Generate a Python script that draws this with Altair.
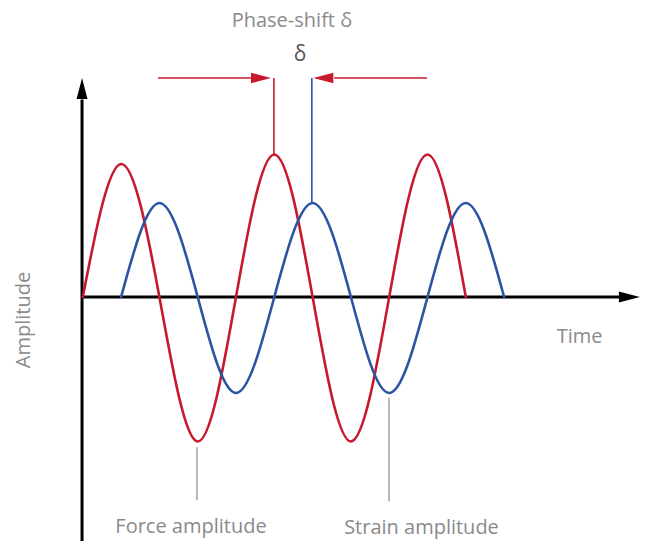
import altair as alt
import pandas as pd

# Waves: time in quarter periods, amplitude in arbitrary units
force_t = [0, 1, 2, 3, 4, 5, 6, 7, 8, 9, 10]
force_a = [0, 1.40, 0, -1.52, 0, 1.50, 0, -1.52, 0, 1.50, 0]
strain_t = [1, 2, 3, 4, 5, 6, 7, 8, 9, 10, 11]
strain_a = [0, 0.99, 0, -1.01, 0, 0.99, 0, -1.01, 0, 0.99, 0]

# Axes (arrows)
x_axis_t = [-0.02, 14.0]
x_axis_a = [0, 0]
y_axis_t = [-0.02, -0.02]
y_axis_a = [2.08, -2.61]
x_arrow = {"t": [14.27], "a": [0]}
y_arrow = {"t": [-0.02], "a": [2.195]}

# Phase-shift annotation
shift_left_t = [1.963, 4.42]
shift_right_t = [6.566, 8.987]
shift_a = 2.305
shift_left_head_t = [4.653]
shift_right_head_t = [6.28]
force_marker_t = [4.99, 4.99]
force_marker_a = [2.305, 1.50]
strain_marker_t = [5.98, 5.98]
strain_marker_a = [2.305, 0.99]

# Leader lines
force_leader_t = [2.98, 2.98]
force_leader_a = [-1.58, -2.14]
strain_leader_t = [7.995, 7.995]
strain_leader_a = [-1.06, -2.15]

# Labels
labels = ["Phase-shift δ", "Time", "Force amplitude", "Strain amplitude"]
labels_t = [5.46, 12.97, 2.825, 8.843]
labels_a = [2.842, -0.484, -2.484, -2.495]

RED = "#C8182B"
BLUE = "#2B55A3"
GRAY_TXT = "#8A8A8A"
GRAY_LINE = "#A6A6A6"
FONT = "Open Sans"

xs = alt.Scale(domain=[-1.953, 14.574], nice=False, zero=False)
ys = alt.Scale(domain=[-2.568, 3.042], nice=False, zero=False)


def enc(ch, order=True):
    e = dict(
        x=alt.X("t:Q", scale=xs, axis=None),
        y=alt.Y("a:Q", scale=ys, axis=None),
    )
    if order:
        e["order"] = alt.Order("i:Q")
    return ch.encode(**e)


def line(ts, as_, color, width, interp="linear", cap="butt"):
    df = pd.DataFrame({"t": ts, "a": as_, "i": list(range(len(ts)))})
    return enc(alt.Chart(df).mark_line(color=color, strokeWidth=width,
                                       interpolate=interp, strokeCap=cap))


def head(ts, as_, path, size, color):
    df = pd.DataFrame({"t": ts, "a": as_})
    return enc(alt.Chart(df).mark_point(shape=path, size=size, filled=True,
                                        color=color, opacity=1,
                                        strokeWidth=0), order=False)


RIGHT = "M1,0 L-1,-0.52 L-1,0.52 Z"
LEFT = "M-1,0 L1,-0.52 L1,0.52 Z"
UP = "M0,-1 L-0.52,1 L0.52,1 Z"

layers = [
    line(x_axis_t, x_axis_a, "black", 3),
    line(y_axis_t, y_axis_a, "black", 3),
    head(x_arrow["t"], x_arrow["a"], RIGHT, 441, "black"),
    head(y_arrow["t"], y_arrow["a"], UP, 441, "black"),
    line(force_t, force_a, RED, 2.6, "natural", "round"),
    line(strain_t, strain_a, BLUE, 2.6, "natural", "round"),
    line(shift_left_t, [shift_a] * 2, RED, 1.7),
    line(shift_right_t, [shift_a] * 2, RED, 1.7),
    head(shift_left_head_t, [shift_a], RIGHT, 400, RED),
    head(shift_right_head_t, [shift_a], LEFT, 400, RED),
    line(force_marker_t, force_marker_a, RED, 1.6),
    line(strain_marker_t, strain_marker_a, BLUE, 1.6),
    line(force_leader_t, force_leader_a, GRAY_LINE, 1.6),
    line(strain_leader_t, strain_leader_a, GRAY_LINE, 1.6),
]

lab_df = pd.DataFrame({"label": labels, "t": labels_t, "a": labels_a})
layers.append(enc(alt.Chart(lab_df).mark_text(
    font=FONT, fontSize=20, color=GRAY_TXT, align="center",
    baseline="alphabetic"), order=False).encode(text="label:N"))

delta_df = pd.DataFrame({"label": ["δ"], "t": [5.67], "a": [2.484]})
layers.append(enc(alt.Chart(delta_df).mark_text(
    font=FONT, fontSize=21, color="#555555", align="center",
    baseline="alphabetic"), order=False).encode(text="label:N"))

amp_df = pd.DataFrame({"label": ["Amplitude"], "t": [-1.535], "a": [-0.242]})
layers.append(enc(alt.Chart(amp_df).mark_text(
    font=FONT, fontSize=20, color=GRAY_TXT, align="center",
    baseline="middle", angle=270), order=False).encode(text="label:N"))

chart = alt.layer(*layers).properties(
    width=633, height=533, padding=0, autosize=alt.AutoSizeParams(type="none")
).configure_view(stroke=None)

chart.save("out.html", embed_options={"renderer": "svg", "actions": False})
